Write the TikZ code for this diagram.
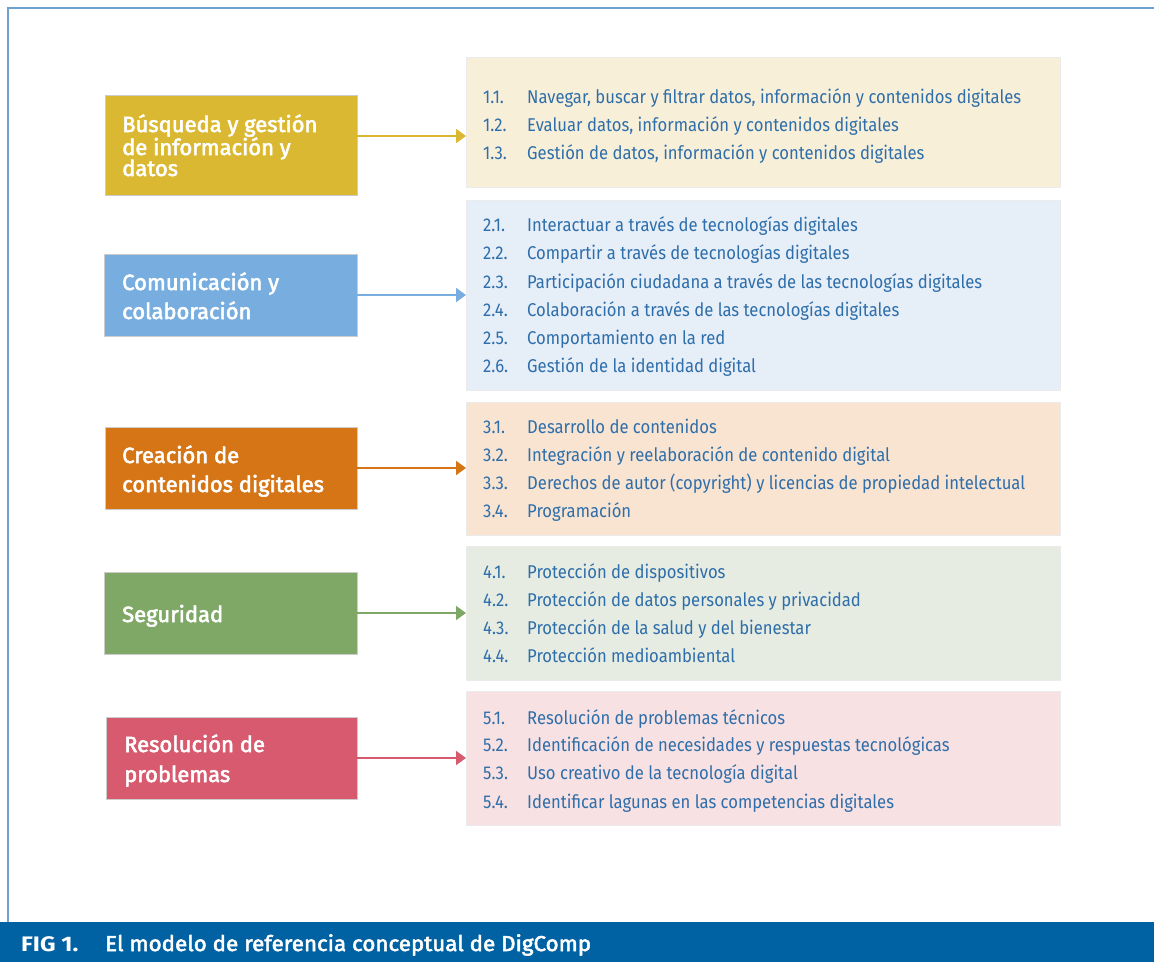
\documentclass[tikz,border=0pt]{standalone}
\usepackage{fontspec}
\setmainfont{Fira Sans}
\newfontfamily\panelfont[FakeStretch=0.9]{Fira Sans}
\newfontfamily\boxfont[FakeStretch=1.0,FakeBold=2.5]{Fira Sans}
\newfontfamily\capfont[FakeStretch=1.04,FakeBold=2.5]{Fira Sans}
\newfontfamily\capbold[FakeStretch=1.15]{Fira Sans}
\usetikzlibrary{arrows.meta}
\definecolor{cA}{HTML}{DBB831}
\definecolor{cB}{HTML}{78AEDF}
\definecolor{cC}{HTML}{D57516}
\definecolor{cD}{HTML}{7FA866}
\definecolor{cE}{HTML}{D85A6E}
\definecolor{pA}{HTML}{F8EFD9}
\definecolor{pB}{HTML}{E6EEF8}
\definecolor{pC}{HTML}{F8E4D1}
\definecolor{pD}{HTML}{E6ECE1}
\definecolor{pE}{HTML}{F8E1E2}
\definecolor{itemblue}{HTML}{2E6EAA}
\definecolor{framecol}{HTML}{6FA0D0}
\definecolor{barcol}{HTML}{0062A3}
\tikzset{
  catbox/.style={rectangle, inner sep=0pt, outer sep=0pt, draw=white!80!black, line width=0.6pt},
  panel/.style={rectangle, inner sep=0pt, outer sep=0pt, draw=black!8, line width=0.6pt},
  boxtxt/.style={anchor=base west, inner sep=0pt, text=white, font=\boxfont\fontsize{22}{24}\selectfont},
  itemnum/.style={anchor=base west, inner sep=0pt, text=itemblue, font=\panelfont\fontsize{18.5}{20}\selectfont},
  itemtxt/.style={itemnum},
  link/.style={line width=2pt, -{Triangle[length=10pt,width=14pt]}},
}
\begin{document}
\begin{tikzpicture}[x=1pt,y=-1pt]
\useasboundingbox (0,0) rectangle (1154,962);
% frame
\draw[framecol, line width=2pt] (8,922) -- (8,8) -- (1160,8);
% caption bar
\fill[barcol] (0,922) rectangle (1154,962);
\node[anchor=base west, inner sep=0pt, text=white, font=\capbold\bfseries\fontsize{21}{22}\selectfont] (figno) at (21,951) {FIG 1.};
\node[anchor=base west, inner sep=0pt, text=white, font=\capfont\fontsize{21.5}{22}\selectfont] (figcap) at (105,951) {El modelo de referencia conceptual de DigComp};

% panels
\node[panel, fill=pA, minimum width=594pt, minimum height=130pt, anchor=north west] (p1) at (466,57) {};
\node[panel, fill=pB, minimum width=594pt, minimum height=190pt, anchor=north west] (p2) at (466,200) {};
\node[panel, fill=pC, minimum width=594pt, minimum height=133pt, anchor=north west] (p3) at (466,402) {};
\node[panel, fill=pD, minimum width=594pt, minimum height=134pt, anchor=north west] (p4) at (466,546) {};
\node[panel, fill=pE, minimum width=594pt, minimum height=134pt, anchor=north west] (p5) at (466,691) {};

% category boxes
\node[catbox, fill=cA, minimum width=252pt, minimum height=100pt, anchor=north west] (b1) at (105,95) {};
\node[catbox, fill=cB, minimum width=253pt, minimum height=82pt, anchor=north west] (b2) at (104,254) {};
\node[catbox, fill=cC, minimum width=252pt, minimum height=82pt, anchor=north west] (b3) at (105,427) {};
\node[catbox, fill=cD, minimum width=253pt, minimum height=82pt, anchor=north west] (b4) at (104,572) {};
\node[catbox, fill=cE, minimum width=251pt, minimum height=82pt, anchor=north west] (b5) at (106,717) {};

\node[boxtxt] (b1a) at (122,132) {Búsqueda y gestión};
\node[boxtxt] (b1b) at (122,155) {de información y};
\node[boxtxt] (b1c) at (122,176) {datos};
\node[boxtxt] (b2a) at (122,290) {Comunicación y};
\node[boxtxt] (b2b) at (122,319) {colaboración};
\node[boxtxt] (b3a) at (122,463) {Creación de};
\node[boxtxt] (b3b) at (122,492) {contenidos digitales};
\node[boxtxt] (b4a) at (122,622) {Seguridad};
\node[boxtxt] (b5a) at (124,752) {Resolución de};
\node[boxtxt] (b5b) at (124,782) {problemas};

% arrows
\coordinate (a1s) at (357,136); \coordinate (a1e) at (466,136);
\draw[link, cA] (b1.east |- a1s) -- (p1.west |- a1e);
\draw[link, cB] (b2.east) -- (p2.west |- b2.east);
\draw[link, cC] (b3.east) -- (p3.west |- b3.east);
\draw[link, cD] (b4.east) -- (p4.west |- b4.east);
\draw[link, cE] (b5.east) -- (p5.west |- b5.east);

% items
\newcommand{\itemline}[4]{%
  \node[itemnum] (#1n) at (483,#2) {#3};
  \node[itemtxt] (#1t) at (527,#2) {#4};}
\itemline{i11}{103}{1.1.}{Navegar, buscar y filtrar datos, información y contenidos digitales}
\itemline{i12}{131}{1.2.}{Evaluar datos, información y contenidos digitales}
\itemline{i13}{159}{1.3.}{Gestión de datos, información y contenidos digitales}
\itemline{i21}{231}{2.1.}{Interactuar a través de tecnologías digitales}
\itemline{i22}{259}{2.2.}{Compartir a través de tecnologías digitales}
\itemline{i23}{288}{2.3.}{Participación ciudadana a través de las tecnologías digitales}
\itemline{i24}{316}{2.4.}{Colaboración a través de las tecnologías digitales}
\itemline{i25}{344}{2.5.}{Comportamiento en la red}
\itemline{i26}{372}{2.6.}{Gestión de la identidad digital}
\itemline{i31}{433}{3.1.}{Desarrollo de contenidos}
\itemline{i32}{461}{3.2.}{Integración y reelaboración de contenido digital}
\itemline{i33}{489}{3.3.}{Derechos de autor (copyright) y licencias de propiedad intelectual}
\itemline{i34}{517}{3.4.}{Programación}
\itemline{i41}{578}{4.1.}{Protección de dispositivos}
\itemline{i42}{606}{4.2.}{Protección de datos personales y privacidad}
\itemline{i43}{634}{4.3.}{Protección de la salud y del bienestar}
\itemline{i44}{662}{4.4.}{Protección medioambiental}
\itemline{i51}{724}{5.1.}{Resolución de problemas técnicos}
\itemline{i52}{751}{5.2.}{Identificación de necesidades y respuestas tecnológicas}
\itemline{i53}{779}{5.3.}{Uso creativo de la tecnología digital}
\itemline{i54}{808}{5.4.}{Identificar lagunas en las competencias digitales}
\end{tikzpicture}
\end{document}
